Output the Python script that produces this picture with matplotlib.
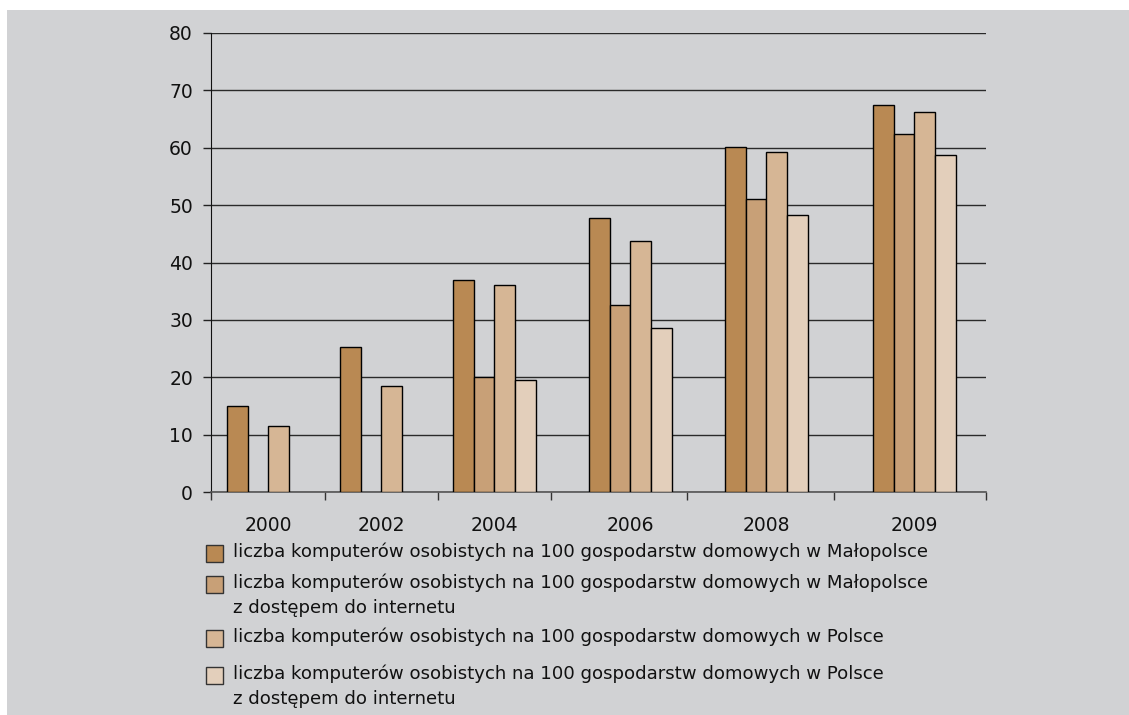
import matplotlib
matplotlib.use('Agg')
from matplotlib import pyplot as plt
from matplotlib.patches import Rectangle
import numpy as np

plt.rcParams['font.family'] = ['DejaVu Sans']

years = ['2000', '2002', '2004', '2006', '2008', '2009']
mp_pc = [15.0, 25.3, 37.0, 47.7, 60.1, 67.4]
mp_net = [np.nan, np.nan, 20.0, 32.6, 51.1, 62.4]
pl_pc = [11.5, 18.5, 36.1, 43.8, 59.2, 66.3]
pl_net = [np.nan, np.nan, 19.5, 28.5, 48.2, 58.7]
labels = [
    'liczba komputerów osobistych na 100 gospodarstw domowych w Małopolsce',
    'liczba komputerów osobistych na 100 gospodarstw domowych w Małopolsce\nz dostępem do internetu',
    'liczba komputerów osobistych na 100 gospodarstw domowych w Polsce',
    'liczba komputerów osobistych na 100 gospodarstw domowych w Polsce\nz dostępem do internetu',
]
colors = ['#b98953', '#c8a077', '#d6b695', '#e3cfbb']
series = [mp_pc, mp_net, pl_pc, pl_net]

# layout of the category axis (the original has uneven group widths)
bounds = [0, 114, 227, 340, 476, 623, 775]
group_left = [16, 129, 242, 378, 514, 662]
bw = 20.7

bg = '#d1d2d4'
fig = plt.figure(figsize=(11.29, 7.15), dpi=100)
fig.patch.set_facecolor('white')
fig.patches.append(Rectangle((7 / 1129, 0), 1, 1 - 10 / 715, transform=fig.transFigure,
                             facecolor=bg, edgecolor='none', zorder=-10))

ax = fig.add_axes([211 / 1129, (715 - 492) / 715, 775 / 1129, 459 / 715])
ax.set_facecolor(bg)

for i, vals in enumerate(series):
    x = np.array(group_left) + i * bw
    ax.bar(x, vals, width=bw, align='edge', color=colors[i], edgecolor='black',
           linewidth=1, zorder=3)

ax.set_xlim(0, 775)
ax.set_ylim(0, 80)
ax.set_yticks(range(0, 81, 10))
ax.yaxis.grid(True, color='#2a2a2a', linewidth=1)
ax.set_axisbelow(True)
ax.tick_params(axis='y', length=6, width=1, color='#222222', labelsize=13.5, pad=7,
               labelcolor='#111111')

centers = [g + 2 * bw for g in group_left]
ax.set_xticks(bounds)
ax.set_xticklabels([])
ax.set_xticks(centers, minor=True)
ax.set_xticklabels(years, minor=True, fontsize=13.5, color='#111111')
ax.tick_params(axis='x', which='major', length=6, width=1, color='#333333')
ax.tick_params(axis='x', which='minor', length=0, pad=17)

for s in ['top', 'right']:
    ax.spines[s].set_visible(False)
ax.spines['left'].set_color('#111111')
ax.spines['bottom'].set_color('#555555')
ax.spines['bottom'].set_linewidth(1.2)

# legend drawn by hand to match spacing
rows_y = [553, 584, 638, 675]
for i, lab in enumerate(labels):
    y = rows_y[i]
    fig.patches.append(Rectangle((206 / 1129, (715 - y - 8.5) / 715), 17 / 1129, 17 / 715,
                                 transform=fig.transFigure, facecolor=colors[i],
                                 edgecolor='#333333', linewidth=1))
    fig.text(233 / 1129, (715 - y + 10.5) / 715, lab, fontsize=13.1, color='#111111',
             va='top', ha='left', linespacing=1.5, transform=fig.transFigure)

fig.savefig('out.png', dpi=100, facecolor=fig.get_facecolor())
